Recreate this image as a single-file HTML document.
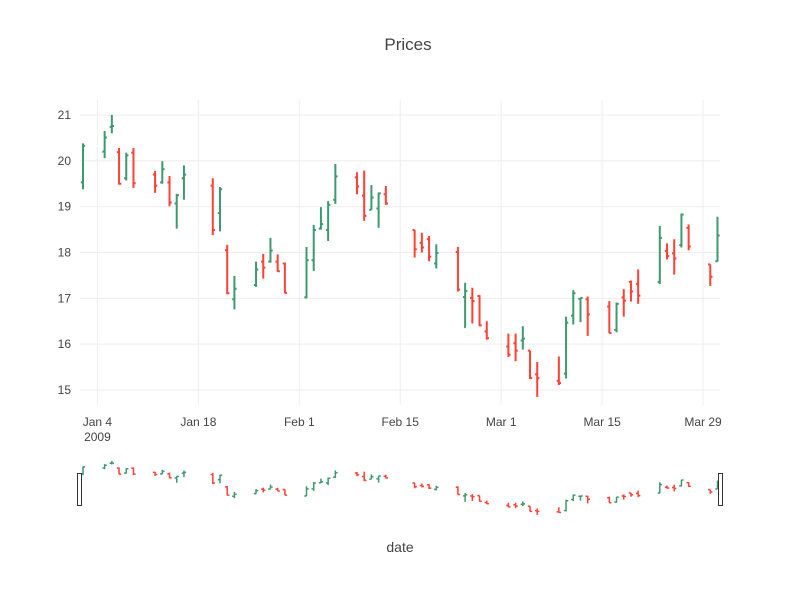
<!DOCTYPE html>
<html><head><meta charset="utf-8"><style>
body{margin:0;background:#fff;font-family:"Liberation Sans",sans-serif;}
svg text{font-family:"Liberation Sans",sans-serif;}
</style></head><body>
<svg id="chart" width="800" height="600" xmlns="http://www.w3.org/2000/svg">
<rect width="800" height="600" fill="#fff"/>
<text x="408" y="50" text-anchor="middle" font-size="17" fill="#444">Prices</text>
<g id="grid"></g><g id="bars"></g><g id="axes"></g><g id="slider"></g>
<text x="400" y="552" text-anchor="middle" font-size="14" fill="#444">date</text>
</svg>
<script>
const dates=["2009-01-02","2009-01-05","2009-01-06","2009-01-07","2009-01-08","2009-01-09","2009-01-12","2009-01-13","2009-01-14","2009-01-15","2009-01-16","2009-01-20","2009-01-21","2009-01-22","2009-01-23","2009-01-26","2009-01-27","2009-01-28","2009-01-29","2009-01-30","2009-02-02","2009-02-03","2009-02-04","2009-02-05","2009-02-06","2009-02-09","2009-02-10","2009-02-11","2009-02-12","2009-02-13","2009-02-17","2009-02-18","2009-02-19","2009-02-20","2009-02-23","2009-02-24","2009-02-25","2009-02-26","2009-02-27","2009-03-02","2009-03-03","2009-03-04","2009-03-05","2009-03-06","2009-03-09","2009-03-10","2009-03-11","2009-03-12","2009-03-13","2009-03-16","2009-03-17","2009-03-18","2009-03-19","2009-03-20","2009-03-23","2009-03-24","2009-03-25","2009-03-26","2009-03-27","2009-03-30","2009-03-31"];
const open=[19.53,20.20,20.74,20.19,19.62,20.18,19.70,19.53,19.53,19.07,19.62,19.46,18.86,18.05,16.98,17.29,17.80,17.80,17.80,17.76,17.02,17.83,18.52,18.49,19.15,19.64,19.24,18.93,18.96,19.27,18.49,18.21,18.29,17.76,18.01,17.03,17.01,17.05,16.28,15.95,16.02,16.08,15.86,15.34,15.20,15.36,16.62,16.99,16.98,16.82,16.31,17.02,17.36,17.31,17.36,18.03,17.98,18.16,18.54,17.74,17.81];
const high=[20.38,20.65,21.00,20.28,20.18,20.28,19.78,19.99,19.67,19.28,19.90,19.62,19.43,18.17,17.49,17.80,17.97,18.32,17.96,17.78,18.12,18.60,18.99,19.12,19.93,19.75,19.79,19.47,19.31,19.45,18.49,18.43,18.36,18.18,18.12,17.34,17.23,17.07,16.50,16.23,16.23,16.39,15.86,15.61,15.73,16.60,17.18,17.01,17.04,16.94,16.91,17.20,17.39,17.63,18.58,18.20,18.29,18.85,18.61,17.74,18.78];
const low=[19.38,20.06,20.60,19.48,19.57,19.41,19.30,19.50,19.01,18.52,19.15,18.38,18.46,17.09,16.76,17.25,17.43,17.78,17.58,17.11,17.00,17.60,18.50,18.25,19.06,19.27,18.69,18.93,18.54,19.04,17.89,18.00,17.81,17.65,17.15,16.35,16.45,16.39,16.10,15.72,15.63,15.88,15.24,14.85,15.11,15.25,16.43,16.48,16.18,16.24,16.26,16.60,16.93,16.88,17.31,17.85,17.52,18.11,18.05,17.27,17.80];
const close=[20.33,20.51,20.76,19.50,20.12,19.51,19.46,19.82,19.09,19.25,19.70,18.49,19.38,17.11,17.21,17.63,17.67,18.04,17.59,17.12,17.83,18.49,18.62,19.04,19.66,19.44,18.80,19.20,19.29,19.07,18.07,18.11,17.91,17.99,17.19,17.16,16.94,16.41,16.13,15.77,15.86,16.12,15.26,15.26,15.15,16.47,17.11,17.01,16.65,16.24,16.88,16.95,17.15,17.06,18.32,17.92,17.87,18.83,18.13,17.47,18.37];
const yTicks=[15,16,17,18,19,20,21];
const xTickDates=["2009-01-04","2009-01-18","2009-02-01","2009-02-15","2009-03-01","2009-03-15","2009-03-29"];
const xTickLabels=["Jan 4","Jan 18","Feb 1","Feb 15","Mar 1","Mar 15","Mar 29"];

const NS="http://www.w3.org/2000/svg";
const t0=Date.UTC(2009,0,2);
function dayOf(s){const p=s.split("-");return (Date.UTC(+p[0],+p[1]-1,+p[2])-t0)/864e5;}
function xS(s){return 83+dayOf(s)*7.21;}
function yS(v){return 115+(21-v)*45.83;}
function ySl(v){return 461+(21-v)*8.78;}
function mk(tag,attrs,parent){const e=document.createElementNS(NS,tag);for(const k in attrs)e.setAttribute(k,attrs[k]);parent.appendChild(e);return e;}
const grid=document.getElementById("grid"),bars=document.getElementById("bars"),axes=document.getElementById("axes"),slider=document.getElementById("slider");
yTicks.forEach(v=>{
  const l=mk("line",{x1:80,x2:720,y1:yS(v),y2:yS(v),stroke:"#eee","stroke-width":1},grid);
  
  
  const t=mk("text",{x:71,y:yS(v)+4,"text-anchor":"end","font-size":12,fill:"#444"},axes);
  t.textContent=v;
  
  
});
xTickDates.forEach((d,i)=>{
  const x=xS(d);
  const l=mk("line",{x1:x,x2:x,y1:100,y2:405,stroke:"#eee","stroke-width":1},grid);
  
  
  const t=mk("text",{x:x,y:426,"text-anchor":"middle","font-size":12,fill:"#444"},axes);
  t.textContent=xTickLabels[i];
  
  
});
const yr=mk("text",{x:xS(xTickDates[0]),y:441,"text-anchor":"middle","font-size":12,fill:"#444"},axes);
yr.textContent="2009";


function drawBar(i,ys,parent,tw,sw,name){
  const x=xS(dates[i]);const up=close[i]>=open[i];const c=up?"#3D9970":"#FF4136";
  const g=mk("path",{d:`M${x-tw},${ys(open[i])}H${x}M${x},${ys(high[i])}V${ys(low[i])}M${x},${ys(close[i])}H${x+tw}`,stroke:c,"stroke-width":sw,fill:"none"},parent);
  
  
}
dates.forEach((d,i)=>drawBar(i,yS,bars,2.2,2,'ohlc-bar'));
dates.forEach((d,i)=>drawBar(i,ySl,slider,2.2,1.5,'slider-ohlc-bar'));
const h1=mk("rect",{x:77.5,y:473.5,width:4,height:32,fill:"#fff",stroke:"#333","stroke-width":1},slider);


const h2=mk("rect",{x:718.5,y:473.5,width:4,height:32,fill:"#fff",stroke:"#333","stroke-width":1},slider);


</script>
</body></html>
